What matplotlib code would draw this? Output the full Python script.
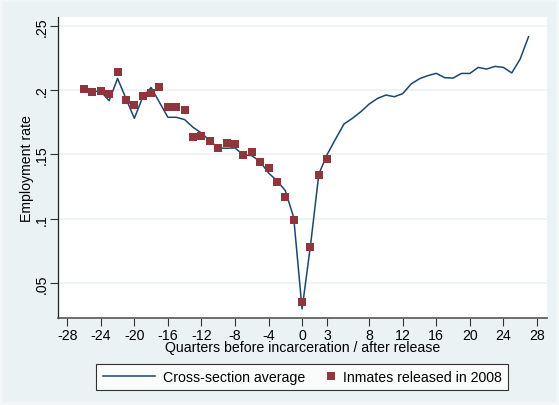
import numpy as np
import matplotlib.pyplot as plt
from matplotlib.lines import Line2D
from matplotlib.legend_handler import HandlerLine2D
from matplotlib.patches import Rectangle

plt.rcParams['font.family'] = ['Liberation Sans', 'DejaVu Sans']

# cross-section average, quarters -26..27
avg_q = list(range(-26, 28))
avg_rate = [0.2005, 0.199, 0.199, 0.1917, 0.209, 0.1935, 0.178, 0.1945, 0.202, 0.1904,
            0.1788, 0.1788, 0.177, 0.171, 0.1666, 0.1606, 0.1549, 0.1547, 0.155, 0.1495,
            0.149, 0.1443, 0.1355, 0.1295, 0.1218, 0.1009, 0.0297, 0.079, 0.1347, 0.150,
            0.162, 0.1736, 0.178, 0.1831, 0.1891, 0.1935, 0.1961, 0.1948, 0.1972, 0.2047,
            0.2088, 0.2112, 0.213, 0.2096, 0.2093, 0.2129, 0.2129, 0.2176, 0.2163, 0.2184,
            0.2176, 0.2133, 0.2241, 0.2415]

# inmates released in 2008, quarters -26..3
inm_q = list(range(-26, 4))
inm_rate = [0.2005, 0.1987, 0.1995, 0.197, 0.2137, 0.1922, 0.1886, 0.1951, 0.198, 0.202,
            0.1865, 0.1865, 0.1847, 0.1632, 0.1642, 0.160, 0.1549, 0.1588, 0.1578, 0.1492,
            0.1516, 0.1443, 0.1391, 0.1282, 0.1166, 0.0989, 0.0352, 0.0777, 0.1337, 0.1463]

xticks = [-28, -24, -20, -16, -12, -8, -4, 0, 3, 8, 12, 16, 20, 24, 28]
yticks = [0.05, 0.1, 0.15, 0.2, 0.25]
ylabels = ['.05', '.1', '.15', '.2', '.25']

bg = '#EAF2F3'
navy = '#1A476F'
maroon = '#90353B'
fs = 10.2


# marker sits at the right end of the legend handle (Stata style)
class RightMarker(HandlerLine2D):
    def get_xdata(self, legend, xdescent, ydescent, width, height, fontsize):
        x = np.array([width - xdescent - 2.0])
        return x, x


fig = plt.figure(figsize=(5.59, 4.06), dpi=100, facecolor=bg)
fig.patches.append(Rectangle((0, 0), 1, 1, transform=fig.transFigure, fill=False,
                             edgecolor='#F3F7F7', lw=4, zorder=0))
ax = fig.add_axes([58/559, 87/406, 489/559, 301/406])
ax.set_facecolor('white')

for v in yticks:
    ax.axhline(v, color=bg, lw=1.2, zorder=0)

ax.plot(avg_q, avg_rate, color=navy, lw=1.1, zorder=2)
ax.plot(inm_q, inm_rate, ls='none', marker='s', ms=6.3, mew=0, color=maroon, zorder=3)

ax.set_xlim(-29.1, 29.2)
ax.set_ylim(0.0227, 0.2568)
ax.set_xticks(xticks)
ax.set_xticklabels([str(t) for t in xticks], fontsize=fs)
ax.set_yticks(yticks)
ax.set_yticklabels(ylabels, fontsize=fs, rotation=90, va='center')
ax.tick_params(length=5.5, width=0.8, color='#333333', pad=1.5)

for s in ['top', 'right']:
    ax.spines[s].set_visible(False)
ax.spines['left'].set_color('#222222')
ax.spines['bottom'].set_color('#555555')
ax.spines['left'].set_linewidth(0.9)
ax.spines['bottom'].set_linewidth(1.2)

ax.set_xlabel('Quarters before incarceration / after release', fontsize=fs, labelpad=-1)
ax.set_ylabel('Employment rate', fontsize=fs, labelpad=0)

h_line = Line2D([], [], color=navy, lw=1.1)
h_mark = Line2D([], [], ls='none', marker='s', ms=6.3, mew=0, color=maroon)
leg = fig.legend([h_line, h_mark], ['Cross-section average', 'Inmates released in 2008'],
                 loc='center', bbox_to_anchor=(302/559, 1 - 378/406), ncol=2,
                 fontsize=fs, frameon=True, fancybox=False, handlelength=3.7,
                 columnspacing=-1.7, borderpad=0.45, handletextpad=0.6,
                 handler_map={h_mark: RightMarker(numpoints=2)})
leg.get_frame().set_edgecolor('black')
leg.get_frame().set_linewidth(0.8)

plt.savefig('out.png', dpi=100, facecolor=bg)
